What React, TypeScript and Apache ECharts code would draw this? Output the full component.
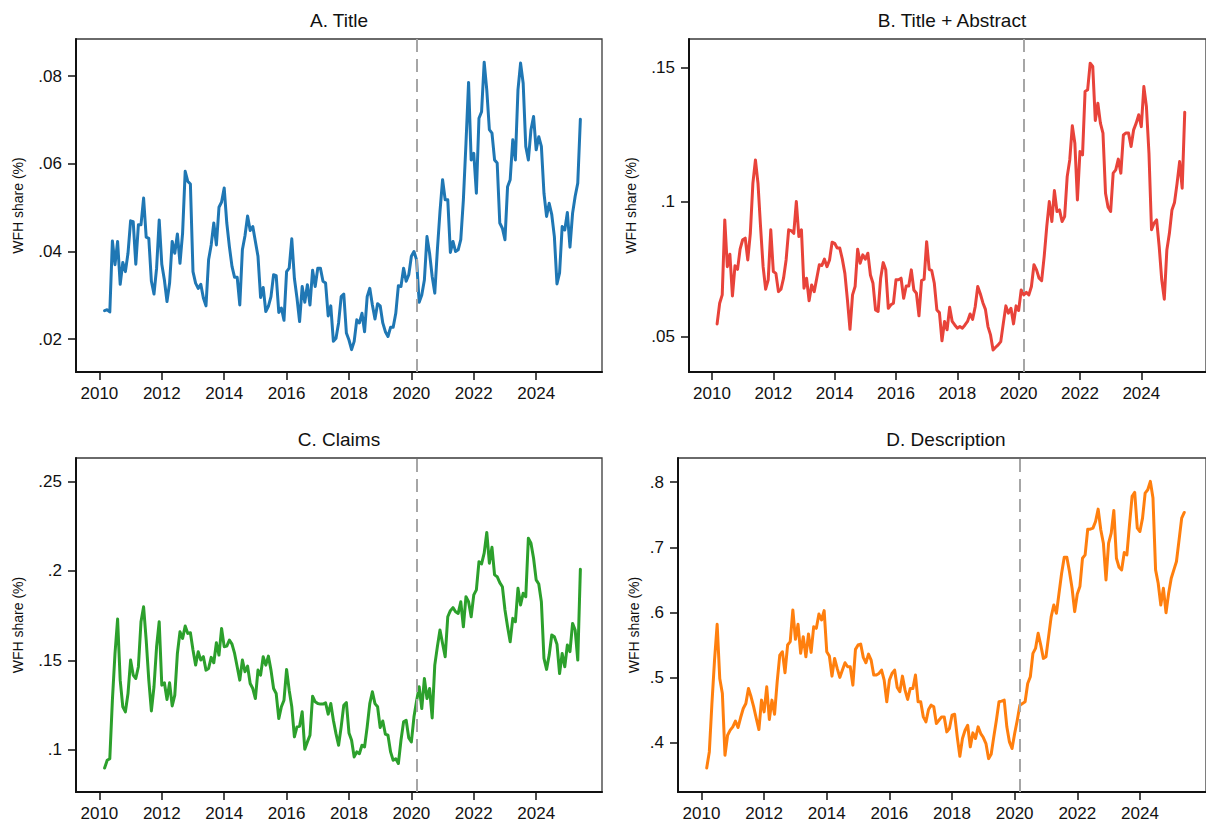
import React, { useEffect, useRef } from "react";
import * as echarts from "echarts";

// Monthly series, first observation March 2010
const START_YEAR = 2010;
const START_MONTH_INDEX = 2; // March (0-based)
const COVID_MARK = 2020 + 2 / 12; // March 2020

const yearTicks = [2010, 2012, 2014, 2016, 2018, 2020, 2022, 2024];

const titleShare = [
  0.0265, 0.0267, 0.0262, 0.0424, 0.037, 0.0423, 0.0325, 0.0375, 0.0354, 0.0396,
  0.047, 0.0468, 0.0371, 0.0461, 0.0461, 0.0522, 0.0433, 0.043, 0.0332, 0.0303,
  0.0362, 0.0472, 0.0371, 0.0335, 0.0286, 0.0328, 0.0423, 0.0396, 0.044, 0.0373,
  0.0442, 0.0583, 0.056, 0.0554, 0.0354, 0.0328, 0.0316, 0.0325, 0.0294, 0.0276,
  0.0381, 0.0415, 0.0465, 0.0415, 0.0501, 0.0513, 0.0545, 0.0465, 0.0411, 0.0366,
  0.0341, 0.0341, 0.0278, 0.0404, 0.0436, 0.0481, 0.0448, 0.0457, 0.0423, 0.0389,
  0.0295, 0.0318, 0.0263, 0.0275, 0.0297, 0.0347, 0.0345, 0.0261, 0.0271, 0.0243,
  0.0354, 0.0362, 0.0429, 0.0339, 0.0294, 0.024, 0.032, 0.0284, 0.0324, 0.0278,
  0.0357, 0.032, 0.0362, 0.0362, 0.0332, 0.0328, 0.0253, 0.0276, 0.0195, 0.0202,
  0.0237, 0.0297, 0.0303, 0.0214, 0.0198, 0.0176, 0.0195, 0.0244, 0.0237, 0.0259,
  0.0217, 0.0297, 0.0316, 0.0278, 0.0246, 0.0281, 0.0276, 0.0237, 0.0217, 0.0206,
  0.0227, 0.0227, 0.0259, 0.0322, 0.032, 0.0362, 0.0332, 0.0347, 0.0389, 0.04,
  0.0381, 0.0284, 0.0301, 0.0335, 0.0434, 0.0396, 0.0343, 0.0305, 0.0404, 0.0491,
  0.0564, 0.0518, 0.0518, 0.0398, 0.0423, 0.04, 0.0404, 0.0427, 0.0518, 0.0647,
  0.0786, 0.0609, 0.0624, 0.0533, 0.0704, 0.0719, 0.0832, 0.0769, 0.0678, 0.067,
  0.0609, 0.0602, 0.0465, 0.0453, 0.0427, 0.0548, 0.0564, 0.0655, 0.0609, 0.0769,
  0.083, 0.0784, 0.064, 0.0609, 0.0678, 0.0708, 0.0632, 0.0662, 0.064, 0.0533,
  0.048, 0.051, 0.0484, 0.0434, 0.0326, 0.0351, 0.0457, 0.0449, 0.0489, 0.041,
  0.0487, 0.0526, 0.0556, 0.0702,
];

const titleAbstractShare = [
  0.0546, 0.0623, 0.0654, 0.0933, 0.0759, 0.0805, 0.065, 0.0762, 0.0749, 0.0824,
  0.0859, 0.0865, 0.0784, 0.0883, 0.1069, 0.1156, 0.1069, 0.0908, 0.0759, 0.0675,
  0.071, 0.0896, 0.0741, 0.0734, 0.0666, 0.0675, 0.0716, 0.0784, 0.0896, 0.0893,
  0.0883, 0.1001, 0.0871, 0.0896, 0.0679, 0.0716, 0.0632, 0.0691, 0.0666, 0.0716,
  0.0766, 0.0763, 0.0787, 0.0759, 0.0784, 0.085, 0.0846, 0.0828, 0.0828, 0.0787,
  0.0734, 0.0635, 0.0526, 0.0654, 0.0685, 0.0824, 0.0772, 0.0803, 0.0787, 0.0809,
  0.0728, 0.0697, 0.0598, 0.0592, 0.0716, 0.0774, 0.0747, 0.0604, 0.0617, 0.0623,
  0.071, 0.071, 0.0716, 0.0641, 0.0687, 0.0687, 0.0747, 0.0672, 0.066, 0.0576,
  0.0707, 0.0712, 0.0852, 0.0749, 0.0744, 0.0697, 0.0598, 0.0588, 0.0483, 0.0555,
  0.0524, 0.0608, 0.0555, 0.0542, 0.053, 0.0536, 0.053, 0.0542, 0.0555, 0.0583,
  0.0563, 0.061, 0.0685, 0.0658, 0.0625, 0.06, 0.0536, 0.0505, 0.0449, 0.0459,
  0.0468, 0.048, 0.0548, 0.0613, 0.0586, 0.0604, 0.0546, 0.0613, 0.0596, 0.0672,
  0.0654, 0.0663, 0.0654, 0.0685, 0.0766, 0.0747, 0.0716, 0.0707, 0.0797, 0.0908,
  0.1001, 0.0927, 0.1042, 0.0964, 0.097, 0.0927, 0.0945, 0.1094, 0.1156, 0.1283,
  0.1218, 0.1007, 0.1187, 0.1175, 0.1411, 0.1417, 0.1516, 0.1504, 0.1303, 0.1367,
  0.1293, 0.1256, 0.1032, 0.098, 0.0964, 0.1107, 0.1119, 0.1159, 0.1107, 0.1249,
  0.1256, 0.1256, 0.1206, 0.1268, 0.1293, 0.1324, 0.128, 0.1429, 0.1355, 0.1181,
  0.0896, 0.0921, 0.0933, 0.0834, 0.071, 0.0638, 0.0821, 0.0883, 0.097, 0.0998,
  0.1069, 0.115, 0.1051, 0.1333,
];

const claimsShare = [
  0.0899, 0.0942, 0.0951, 0.1278, 0.1539, 0.1731, 0.139, 0.1241, 0.1213, 0.1315,
  0.1502, 0.1418, 0.1399, 0.1465, 0.1716, 0.18, 0.1614, 0.139, 0.1218, 0.1353,
  0.1577, 0.1716, 0.1362, 0.1375, 0.1282, 0.1375, 0.1246, 0.1306, 0.1539, 0.166,
  0.1623, 0.1692, 0.1651, 0.1655, 0.1558, 0.1474, 0.1549, 0.1502, 0.1521, 0.1446,
  0.1455, 0.1517, 0.1487, 0.1599, 0.153, 0.1679, 0.1577, 0.158, 0.1614, 0.1591,
  0.1539, 0.1465, 0.139, 0.1502, 0.1437, 0.1468, 0.1371, 0.1343, 0.1287, 0.1446,
  0.1418, 0.1521, 0.1474, 0.1524, 0.1446, 0.1343, 0.1315, 0.1175, 0.1241, 0.1278,
  0.145, 0.1334, 0.1241, 0.1073, 0.1129, 0.1132, 0.1213, 0.1004, 0.1045, 0.1082,
  0.13, 0.1269, 0.1259, 0.1256, 0.1256, 0.1263, 0.12, 0.1259, 0.1166, 0.1091,
  0.1026, 0.1129, 0.125, 0.1265, 0.1095, 0.1054, 0.0961, 0.0989, 0.0979, 0.1026,
  0.1017, 0.1129, 0.1259, 0.1325, 0.1259, 0.1241, 0.1125, 0.1162, 0.1088, 0.1082,
  0.0989, 0.0942, 0.0951, 0.0924, 0.1054, 0.1157, 0.1166, 0.1067, 0.1045, 0.1185,
  0.1274, 0.1353, 0.1231, 0.1399, 0.1287, 0.1343, 0.1179, 0.1474, 0.1577, 0.167,
  0.1595, 0.1521, 0.1744, 0.1778, 0.1795, 0.1772, 0.1763, 0.1828, 0.1688, 0.1856,
  0.1828, 0.1744, 0.1866, 0.1894, 0.2052, 0.2039, 0.2099, 0.2215, 0.2043, 0.2132,
  0.1978, 0.1968, 0.1935, 0.1912, 0.1782, 0.1688, 0.1604, 0.1735, 0.1716, 0.1903,
  0.181, 0.1875, 0.1856, 0.2183, 0.2155, 0.2071, 0.195, 0.1927, 0.1828, 0.1511,
  0.145, 0.153, 0.1642, 0.1632, 0.1591, 0.1427, 0.1539, 0.1465, 0.1586, 0.1549,
  0.1707, 0.167, 0.1502, 0.2009,
];

const descriptionShare = [
  0.3616, 0.3862, 0.4604, 0.527, 0.5818, 0.4988, 0.4758, 0.381, 0.4118, 0.4195,
  0.4246, 0.4333, 0.4236, 0.4389, 0.4528, 0.4604, 0.4835, 0.4707, 0.4553, 0.4374,
  0.4205, 0.4656, 0.4476, 0.486, 0.4359, 0.4656, 0.444, 0.4937, 0.5347, 0.5398,
  0.5076, 0.5501, 0.5552, 0.6038, 0.5588, 0.5818, 0.5373, 0.5629, 0.5321, 0.567,
  0.5388, 0.5782, 0.5757, 0.5977, 0.5885, 0.6028, 0.5398, 0.5332, 0.5024, 0.5296,
  0.5142, 0.5004, 0.5117, 0.5229, 0.5168, 0.5168, 0.4886, 0.5434, 0.5501, 0.5516,
  0.5311, 0.5229, 0.5362, 0.527, 0.504, 0.504, 0.5065, 0.5117, 0.4963, 0.463,
  0.4963, 0.5065, 0.5117, 0.485, 0.4784, 0.5024, 0.4809, 0.4666, 0.4835, 0.4835,
  0.504, 0.463, 0.463, 0.4399, 0.4323, 0.4512, 0.4579, 0.4553, 0.4297, 0.4348,
  0.4399, 0.4399, 0.4169, 0.422, 0.4425, 0.444, 0.4092, 0.3795, 0.4067, 0.4195,
  0.4271, 0.3939, 0.4154, 0.4067, 0.4246, 0.4143, 0.4082, 0.399, 0.3759, 0.3826,
  0.4092, 0.4348, 0.463, 0.464, 0.4656, 0.4246, 0.4015, 0.3913, 0.4143, 0.4348,
  0.4579, 0.4604, 0.463, 0.4912, 0.5014, 0.5373, 0.5449, 0.568, 0.5501, 0.5296,
  0.5321, 0.5629, 0.5936, 0.6115, 0.5987, 0.6294, 0.6602, 0.6848, 0.6848, 0.6627,
  0.6371, 0.6013, 0.6284, 0.6397, 0.6832, 0.6883, 0.7278, 0.7278, 0.7293, 0.7396,
  0.7585, 0.7268, 0.7063, 0.6499, 0.7063, 0.7216, 0.7565, 0.6832, 0.6694, 0.6653,
  0.6919, 0.6883, 0.7344, 0.778, 0.7841, 0.7293, 0.7242, 0.7447, 0.7831, 0.7882,
  0.801, 0.7754, 0.6653, 0.6448, 0.6115, 0.6371, 0.5997, 0.6294, 0.6525, 0.6653,
  0.6781, 0.7114, 0.7447, 0.7534,
];

const panelTitles = ["A. Title", "B. Title + Abstract", "C. Claims", "D. Description"];
const yTicksA = [0.02, 0.04, 0.06, 0.08];
const yTicksB = [0.05, 0.1, 0.15];
const yTicksC = [0.1, 0.15, 0.2, 0.25];
const yTicksD = [0.4, 0.5, 0.6, 0.7, 0.8];
const yAxisName = "WFH share (%)";

const FONT = "'Liberation Sans', Arial, Helvetica, sans-serif";

const panels = [
  { title: panelTitles[0], data: titleShare, ticks: yTicksA, color: "#1f77b4",
    left: 76, top: 39, width: 526, height: 333, ymin: 0.0125, ymax: 0.0885, nameGap: 51, titleY: 20 },
  { title: panelTitles[1], data: titleAbstractShare, ticks: yTicksB, color: "#e8433a",
    left: 689, top: 39, width: 526, height: 333, ymin: 0.0367, ymax: 0.1606, nameGap: 51, titleY: 20 },
  { title: panelTitles[2], data: claimsShare, ticks: yTicksC, color: "#2ca02c",
    left: 76, top: 458, width: 526, height: 334, ymin: 0.0765, ymax: 0.2631, nameGap: 51, titleY: 439 },
  { title: panelTitles[3], data: descriptionShare, ticks: yTicksD, color: "#ff7f0e",
    left: 678, top: 458, width: 537, height: 334, ymin: 0.3247, ymax: 0.8369, nameGap: 37, titleY: 439 },
];

function monthX(i: number) {
  return START_YEAR + (START_MONTH_INDEX + i) / 12;
}

function fmtTick(v: number) {
  const s = String(Number(v.toFixed(4)));
  return s.replace(/^0\./, ".");
}

export default function App() {
  const ref = useRef<HTMLDivElement>(null);
  useEffect(() => {
    if (!ref.current) return;
    const chart = echarts.init(ref.current, undefined, { renderer: "svg" });
    const option: any = {
      animation: false,
      backgroundColor: "#ffffff",
      textStyle: { fontFamily: FONT },
      grid: panels.map((p) => ({
        left: p.left,
        top: p.top,
        width: p.width,
        height: p.height,
        show: true,
        borderColor: "#3a3a3a",
        borderWidth: 1.3,
        containLabel: false,
      })),
      xAxis: panels.map((p, k) => ({
        type: "value",
        gridIndex: k,
        min: 2009.25,
        max: 2026.11,
        axisLine: { show: true, onZero: false, lineStyle: { color: "#111", width: 2 } },
        axisTick: { show: true, customValues: yearTicks, length: 8, lineStyle: { color: "#111", width: 1.5 } },
        axisLabel: {
          show: true,
          customValues: yearTicks,
          margin: 13,
          fontSize: 17,
          color: "#111",
          fontFamily: FONT,
          formatter: (v: number) => String(Math.round(v)),
        },
        splitLine: { show: false },
      })),
      yAxis: panels.map((p, k) => ({
        type: "value",
        gridIndex: k,
        min: p.ymin,
        max: p.ymax,
        name: yAxisName,
        nameLocation: "middle",
        nameGap: p.nameGap,
        nameTextStyle: { fontSize: 14, color: "#111", fontFamily: FONT },
        axisLine: { show: true, onZero: false, lineStyle: { color: "#111", width: 2 } },
        axisTick: { show: true, customValues: p.ticks, length: 8, lineStyle: { color: "#111", width: 1.5 } },
        axisLabel: {
          show: true,
          customValues: p.ticks,
          margin: 14,
          fontSize: 17,
          color: "#111",
          fontFamily: FONT,
          formatter: (v: number) => fmtTick(v),
        },
        splitLine: { show: false },
      })),
      series: panels.map((p, k) => ({
        type: "line",
        xAxisIndex: k,
        yAxisIndex: k,
        data: p.data.map((v, i) => [monthX(i), v]),
        showSymbol: false,
        symbol: "none",
        lineStyle: { color: p.color, width: 3, join: "round", cap: "round" },
        silent: true,
        markLine: {
          silent: true,
          symbol: "none",
          label: { show: false },
          lineStyle: { color: "#a6a6a6", type: [13, 7], width: 2 },
          data: [{ xAxis: COVID_MARK }],
        },
      })),
      graphic: panels.map((p) => ({
        type: "text",
        x: p.left + (p.left === 678 ? 268 : 263),
        y: p.titleY,
        style: {
          text: p.title,
          fontSize: 19,
          fontFamily: FONT,
          fill: "#111",
          textAlign: "center",
          textVerticalAlign: "middle",
        },
      })),
    };
    chart.setOption(option);
    return () => chart.dispose();
  }, []);
  return (
    <div
      ref={ref}
      style={{ position: "absolute", left: 0, top: 0, width: 1206, height: 827, background: "#fff" }}
    />
  );
}
